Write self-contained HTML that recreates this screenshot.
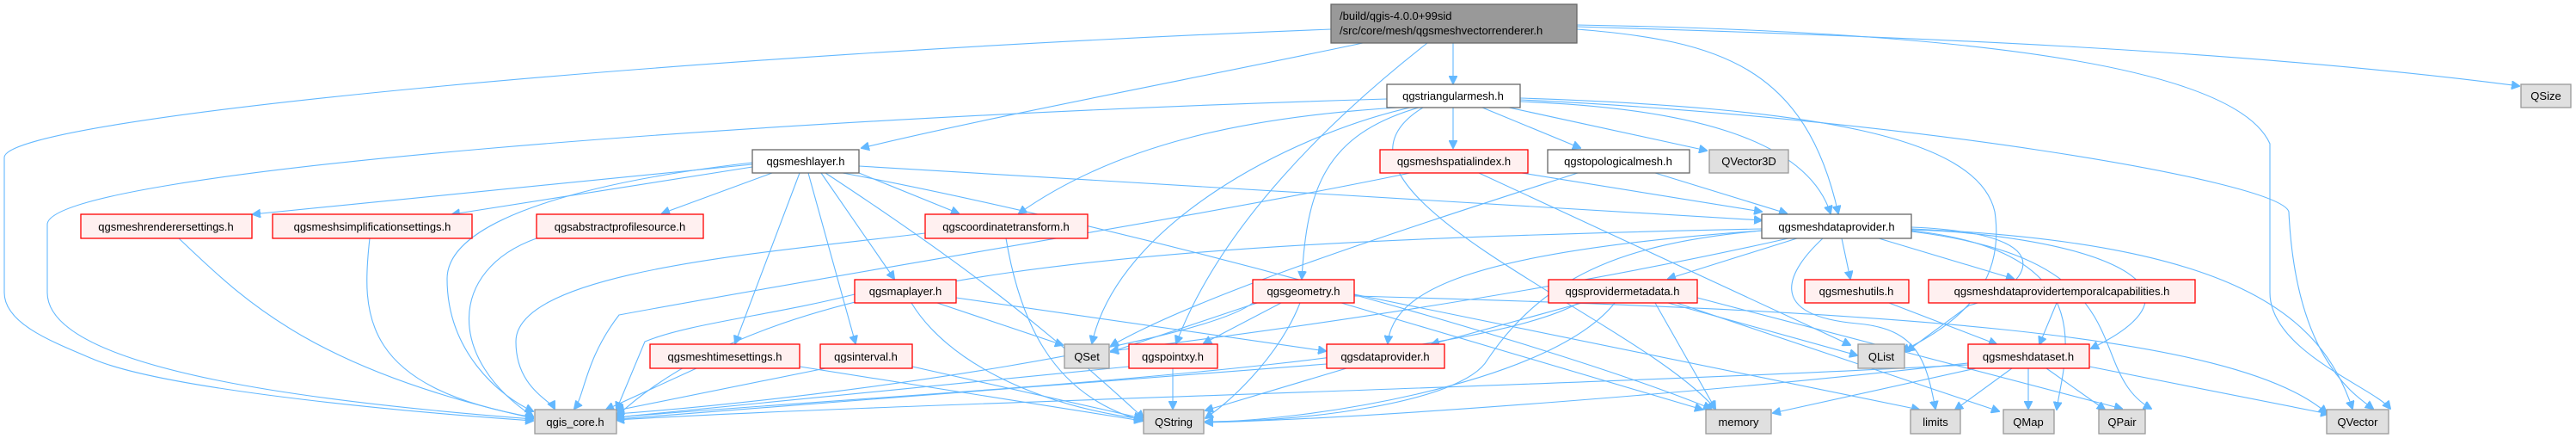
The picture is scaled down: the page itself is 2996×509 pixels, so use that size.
<!DOCTYPE html>
<html><head><meta charset="utf-8"><style>
html,body{margin:0;padding:0;background:#fff;overflow:hidden;}
svg{display:block;}
text{font-family:"Liberation Sans","DejaVu Sans",sans-serif;font-size:13px;fill:#000;}
.e{fill:none;stroke:#63B8FF;stroke-width:1.1;marker-end:url(#a);}
.w{fill:#fff;stroke:#666;stroke-width:1.3;}
.r{fill:#FFF0F0;stroke:#FF0000;stroke-width:1.3;}
.g{fill:#E0E0E0;stroke:#999;stroke-width:1.3;}
.k{fill:#999;stroke:#666;stroke-width:1.3;}
</style></head><body>
<svg width="2996" height="509" viewBox="0 0 2996 509" xmlns="http://www.w3.org/2000/svg">
<defs><marker id="a" viewBox="0 0 10 10" refX="9" refY="5" markerWidth="10" markerHeight="10" markerUnits="userSpaceOnUse" orient="auto"><path d="M0,0 L10,5 L0,10 z" fill="#63B8FF" stroke="#63B8FF"/></marker></defs>
<g>
<!-- root -->
<path class="e" d="M1548,34 C800,63 5,136 5,183 L5,340 C5,376 60,397 110,418 C200,455 500,481 620,489"/>
<path class="e" d="M1585,50 C1400,89 1150,136 1002,172"/>
<path class="e" d="M1690,50 L1690,97"/>
<path class="e" d="M1660,50 C1550,136 1420,261 1368,399"/>
<path class="e" d="M1834,34 C2000,47 2100,78 2138,248"/>
<path class="e" d="M1834,31 C2200,42 2600,57 2930,100"/>
<path class="e" d="M1834,29 C2300,37 2600,78 2640,167 L2640,340 C2640,408 2760,450 2780,475"/>
<!-- triangular mesh -->
<path class="e" d="M1613,115 C900,136 55,199 55,261 L55,340 C55,434 400,470 620,487"/>
<path class="e" d="M1625,125 C1450,136 1300,167 1185,248"/>
<path class="e" d="M1640,125 C1500,157 1300,261 1270,399"/>
<path class="e" d="M1650,125 C1540,157 1520,220 1514,324"/>
<path class="e" d="M1690,125 L1690,172"/>
<path class="e" d="M1724,125 L1838,172"/>
<path class="e" d="M1755,125 L1985,175"/>
<path class="e" d="M1768,118 C1950,125 2100,157 2129,248"/>
<path class="e" d="M1655,125 C1500,220 1900,366 1995,475"/>
<path class="e" d="M1768,116 C2200,136 2650,209 2662,246 C2670,418 2740,460 2760,475"/>
<path class="e" d="M1768,114 C2100,125 2300,157 2320,246 C2330,314 2300,366 2212,408"/>
<!-- mesh layer -->
<path class="e" d="M875,191 L294,249"/>
<path class="e" d="M875,194 L526,249"/>
<path class="e" d="M898,201 L770,248"/>
<path class="e" d="M999,201 L1115,248"/>
<path class="e" d="M930,201 L855,399"/>
<path class="e" d="M940,201 L995,399"/>
<path class="e" d="M955,201 L1040,324"/>
<path class="e" d="M875,189 C700,209 520,251 520,324 C520,408 580,460 620,478"/>
<path class="e" d="M960,201 C1100,293 1200,366 1330,486"/>
<path class="e" d="M980,201 C1300,261 1800,397 1990,475"/>
<path class="e" d="M999,193 L2049,256"/>
<!-- second level -->
<path class="e" d="M208,277 C280,345 360,429 620,486"/>
<path class="e" d="M430,277 C420,366 420,450 620,485"/>
<path class="e" d="M624,277 C520,314 520,418 620,484"/>
<path class="e" d="M1170,277 C1185,366 1220,460 1330,489"/>
<path class="e" d="M1076,271 C900,293 600,314 600,397 C600,450 640,465 645,475"/>
<path class="e" d="M810,428 L705,476"/>
<path class="e" d="M930,426 L1328,489"/>
<path class="e" d="M960,428 L717,477"/>
<path class="e" d="M1061,426 L1328,486"/>
<path class="e" d="M994,342 C900,366 800,376 750,397 L717,476"/>
<path class="e" d="M1090,352 L1236,401"/>
<path class="e" d="M1060,352 C1100,418 1200,470 1328,487"/>
<path class="e" d="M1112,346 L1542,408"/>
<!-- spatial index / topo -->
<path class="e" d="M1640,201 C1400,251 1000,314 720,366 C680,418 680,460 668,475"/>
<path class="e" d="M1720,201 L2152,401"/>
<path class="e" d="M1770,201 L2049,246"/>
<path class="e" d="M1925,201 L2078,248"/>
<path class="e" d="M1835,201 C1650,261 1400,340 1292,402"/>
<!-- mesh data provider -->
<path class="e" d="M2049,266 C1300,282 900,314 717,484"/>
<path class="e" d="M2049,268 C1900,282 1800,314 1730,418 C1700,470 1500,491 1402,490"/>
<path class="e" d="M2049,268 C1700,293 1620,340 1614,399"/>
<path class="e" d="M2090,277 L1940,324"/>
<path class="e" d="M2142,277 L2152,324"/>
<path class="e" d="M2185,277 L2342,324"/>
<path class="e" d="M2223,267 C2400,272 2600,324 2432,405"/>
<path class="e" d="M2223,266 C2600,282 2700,366 2736,475"/>
<path class="e" d="M2223,269 C2500,303 2420,429 2502,475"/>
<path class="e" d="M2223,268 C2450,293 2400,418 2392,476"/>
<path class="e" d="M2223,264 C2420,272 2350,340 2290,355 L2218,408"/>
<path class="e" d="M2120,277 C2080,314 2050,366 2160,376 C2230,382 2240,418 2251,475"/>
<path class="e" d="M2080,277 C1800,340 1500,382 1292,408"/>
<!-- geometry -->
<path class="e" d="M1462,352 L1292,409"/>
<path class="e" d="M1490,352 L1400,399"/>
<path class="e" d="M1512,352 C1490,408 1440,460 1402,486"/>
<path class="e" d="M1457,352 C1400,397 1000,460 717,481"/>
<path class="e" d="M1560,352 L1980,476"/>
<path class="e" d="M1575,342 L2232,476"/>
<path class="e" d="M1575,344 C2200,361 2600,387 2706,480"/>
<!-- provider metadata -->
<path class="e" d="M1840,352 L1665,400"/>
<path class="e" d="M1878,352 C1800,450 1500,491 1402,490"/>
<path class="e" d="M1836,352 C1700,429 1000,460 717,485"/>
<path class="e" d="M1925,352 L1995,475"/>
<path class="e" d="M1940,352 L2160,413"/>
<path class="e" d="M1950,352 L2325,478"/>
<path class="e" d="M1974,346 L2468,475"/>
<!-- pointxy / dataprovider -->
<path class="e" d="M1364,428 L1364,475"/>
<path class="e" d="M1313,426 L717,485"/>
<path class="e" d="M1543,423 L717,487"/>
<path class="e" d="M1566,428 L1402,477"/>
<!-- meshutils / temporal -->
<path class="e" d="M2197,352 L2322,400"/>
<path class="e" d="M2392,352 L2372,400"/>
<!-- meshdataset -->
<path class="e" d="M2289,424 C1800,450 1000,470 717,488"/>
<path class="e" d="M2289,422 C2000,455 1600,486 1402,491"/>
<path class="e" d="M2298,428 L2062,480"/>
<path class="e" d="M2340,428 L2274,476"/>
<path class="e" d="M2359,428 L2359,475"/>
<path class="e" d="M2380,428 L2448,476"/>
<path class="e" d="M2430,426 L2708,481"/>
</g>
<!-- nodes -->
<rect class="k" x="1548" y="5" width="286" height="45"/>
<text x="1558" y="23">/build/qgis-4.0.0+99sid</text>
<text x="1558" y="40">/src/core/mesh/qgsmeshvectorrenderer.h</text>

<rect class="w" x="1613" y="98" width="155" height="27"/><text x="1690" y="116" text-anchor="middle">qgstriangularmesh.h</text>
<rect class="g" x="2932" y="98" width="58" height="27"/><text x="2961" y="116" text-anchor="middle">QSize</text>

<rect class="w" x="875" y="174" width="124" height="27"/><text x="937" y="192" text-anchor="middle">qgsmeshlayer.h</text>
<rect class="r" x="1605" y="174" width="172" height="27"/><text x="1691" y="192" text-anchor="middle">qgsmeshspatialindex.h</text>
<rect class="w" x="1800" y="174" width="165" height="27"/><text x="1882" y="192" text-anchor="middle">qgstopologicalmesh.h</text>
<rect class="g" x="1988" y="174" width="92" height="27"/><text x="2034" y="192" text-anchor="middle">QVector3D</text>

<rect class="r" x="94" y="249" width="199" height="28"/><text x="193" y="268" text-anchor="middle">qgsmeshrenderersettings.h</text>
<rect class="r" x="317" y="249" width="232" height="28"/><text x="433" y="268" text-anchor="middle">qgsmeshsimplificationsettings.h</text>
<rect class="r" x="624" y="249" width="194" height="28"/><text x="721" y="268" text-anchor="middle">qgsabstractprofilesource.h</text>
<rect class="r" x="1076" y="249" width="189" height="28"/><text x="1170" y="268" text-anchor="middle">qgscoordinatetransform.h</text>
<rect class="w" x="2049" y="249" width="174" height="28"/><text x="2136" y="268" text-anchor="middle">qgsmeshdataprovider.h</text>

<rect class="r" x="994" y="325" width="118" height="27"/><text x="1053" y="343" text-anchor="middle">qgsmaplayer.h</text>
<rect class="r" x="1457" y="325" width="118" height="27"/><text x="1516" y="343" text-anchor="middle">qgsgeometry.h</text>
<rect class="r" x="1801" y="325" width="173" height="27"/><text x="1887" y="343" text-anchor="middle">qgsprovidermetadata.h</text>
<rect class="r" x="2099" y="325" width="121" height="27"/><text x="2159" y="343" text-anchor="middle">qgsmeshutils.h</text>
<rect class="r" x="2243" y="325" width="310" height="27"/><text x="2398" y="343" text-anchor="middle">qgsmeshdataprovidertemporalcapabilities.h</text>

<rect class="r" x="756" y="400" width="174" height="28"/><text x="843" y="419" text-anchor="middle">qgsmeshtimesettings.h</text>
<rect class="r" x="954" y="400" width="107" height="28"/><text x="1007" y="419" text-anchor="middle">qgsinterval.h</text>
<rect class="g" x="1238" y="400" width="52" height="28"/><text x="1264" y="419" text-anchor="middle">QSet</text>
<rect class="r" x="1313" y="400" width="103" height="28"/><text x="1364" y="419" text-anchor="middle">qgspointxy.h</text>
<rect class="r" x="1543" y="400" width="137" height="28"/><text x="1611" y="419" text-anchor="middle">qgsdataprovider.h</text>
<rect class="g" x="2161" y="400" width="54" height="28"/><text x="2188" y="419" text-anchor="middle">QList</text>
<rect class="r" x="2289" y="400" width="141" height="28"/><text x="2359" y="419" text-anchor="middle">qgsmeshdataset.h</text>

<rect class="g" x="622" y="476" width="95" height="28"/><text x="669" y="495" text-anchor="middle">qgis_core.h</text>
<rect class="g" x="1330" y="476" width="70" height="28"/><text x="1365" y="495" text-anchor="middle">QString</text>
<rect class="g" x="1984" y="476" width="76" height="28"/><text x="2022" y="495" text-anchor="middle">memory</text>
<rect class="g" x="2222" y="476" width="58" height="28"/><text x="2251" y="495" text-anchor="middle">limits</text>
<rect class="g" x="2330" y="476" width="59" height="28"/><text x="2359" y="495" text-anchor="middle">QMap</text>
<rect class="g" x="2441" y="476" width="54" height="28"/><text x="2468" y="495" text-anchor="middle">QPair</text>
<rect class="g" x="2706" y="476" width="72" height="28"/><text x="2742" y="495" text-anchor="middle">QVector</text>
</svg>
</body></html>
